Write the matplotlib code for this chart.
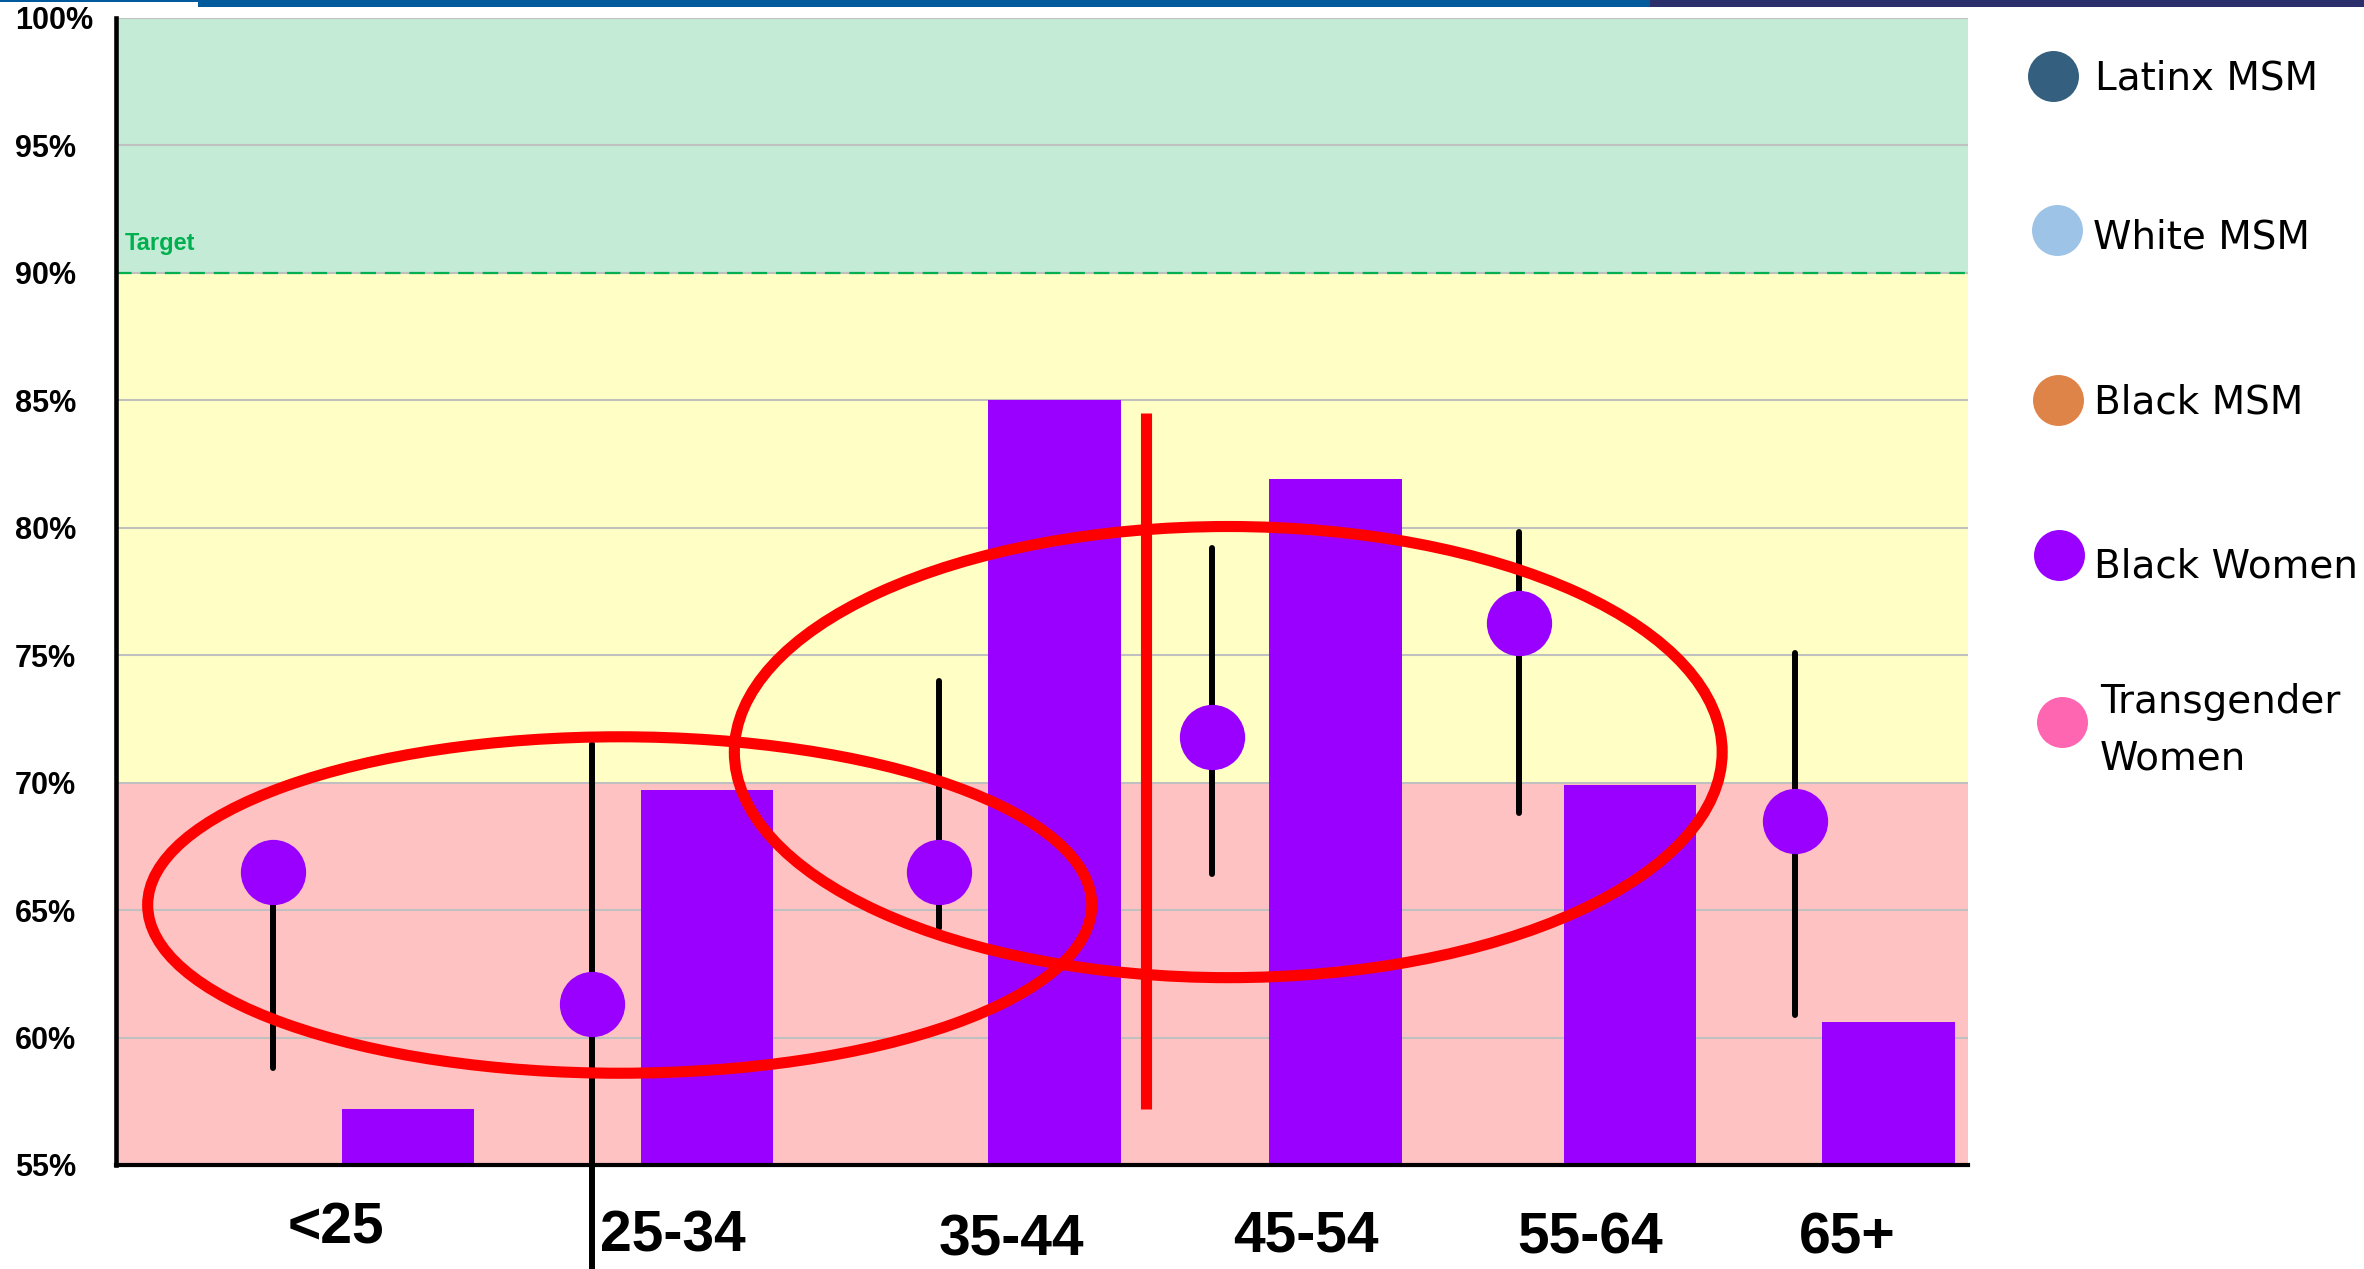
import matplotlib
matplotlib.use("Agg")
import matplotlib.pyplot as plt
import matplotlib.transforms as mtransforms
from matplotlib.patches import Ellipse, Rectangle
from matplotlib.lines import Line2D

# ---------------- data ----------------
categories = ["<25", "25-34", "35-44", "45-54", "55-64", "65+"]
bar_values = [57.2, 69.7, 85.0, 81.9, 69.9, 60.6]
dot_values = [66.5, 61.3, 66.5, 71.8, 76.25, 68.5]
dot_upper = [66.5, 71.5, 74.0, 79.2, 79.85, 75.1]
dot_lower = [58.8, 50.9, 64.3, 66.4, 68.8, 60.9]
y_ticks = [55, 60, 65, 70, 75, 80, 85, 90, 95, 100]
y_tick_labels = [f"{v}%" for v in y_ticks]
target_value = 90
legend_labels = ["Latinx MSM", "White MSM", "Black MSM", "Black Women", "Transgender\nWomen"]
legend_colors = ["#355F7E", "#9DC3E6", "#DF8449", "#9900FF", "#FF66B2"]

# ---------------- layout (positions on the slide) ----------------
bar_x = [0.968, 1.959, 3.1125, 4.044, 5.019, 5.8775]
dot_x = [0.52, 1.577, 2.7275, 3.633, 4.652, 5.565]
label_x = [0.73, 1.846, 2.97, 3.946, 4.887, 5.738]
label_baseline_px = [1243, 1252, 1256, 1252, 1254, 1254]
# annotation shapes (data units)
ellipse_specs = [((1.67, 65.2), 3.13, 13.2), ((3.6875, 71.2), 3.275, 17.7)]
red_line = (3.415, 57.2, 84.5)

W, H = 2364, 1269
fig = plt.figure(figsize=(W / 100, H / 100), dpi=100)
fig.patch.set_facecolor("white")
ax = fig.add_axes([116 / W, 1 - 1165 / H, (1968 - 116) / W, (1165 - 18) / H])
ax.set_xlim(0, 6.14)
ax.set_ylim(55, 100)

# background bands
ax.axhspan(55, 70, color="#FFC2C2", zorder=0, lw=0)
ax.axhspan(70, 90, color="#FFFFC5", zorder=0, lw=0)
ax.axhspan(90, 100, color="#C3EBD6", zorder=0, lw=0)
for v in y_ticks[1:]:
    ax.axhline(v, color="#C0C0C0", lw=1.5, zorder=1)

# target line
ax.axhline(target_value, color="#00B050", lw=1.6, ls=(0, (7, 4)), zorder=2)
ax.text(0.03, target_value + 0.9, "Target", color="#00B050", fontsize=17,
        fontweight="bold", family="Liberation Sans", va="baseline", ha="left")

# bars
ax.bar(bar_x, bar_values, width=0.44, color="#9900FF", zorder=3, lw=0)

# error lines + dots
vl = ax.vlines(dot_x, dot_lower, dot_upper, color="black", lw=4.3, zorder=4)
vl.set_capstyle("round")
vl.set_clip_on(False)
ax.plot(dot_x, dot_values, "o", ms=47, color="#9900FF", mec="none", zorder=6,
        clip_on=False)

# red annotations
for (c, w, h) in ellipse_specs:
    ax.add_patch(Ellipse(c, w, h, fill=False, ec="#FF0000", lw=8, zorder=5))
rl = ax.vlines(red_line[0], red_line[1], red_line[2], color="#FF0000", lw=8, zorder=5)

# spines / ticks
for s in ["top", "right"]:
    ax.spines[s].set_visible(False)
ax.spines["left"].set_linewidth(3.3)
ax.spines["bottom"].set_linewidth(3.0)
ax.spines["left"].set_zorder(10)
ax.spines["bottom"].set_zorder(10)
ax.set_xticks([])
ax.set_yticks(y_ticks)
ax.set_yticklabels(y_tick_labels, fontsize=22, fontweight="bold",
                   family="Liberation Sans")
ax.tick_params(axis="y", length=0, pad=72.7)
for t in ax.get_yticklabels():
    t.set_horizontalalignment("left")

# category labels
trans = mtransforms.blended_transform_factory(ax.transData, fig.transFigure)
for x, lab, by in zip(label_x, categories, label_baseline_px):
    ax.text(x, 1 - by / H, lab, transform=trans, ha="center", va="baseline",
            fontsize=41, fontweight="bold", family="Liberation Sans")

# legend (manual, slide-like)
marker_pos = [(2053, 76), (2057, 230), (2058, 400), (2059, 555), (2062, 722)]
text_pos = [(2095, [89]), (2093, [249]), (2094, [414]), (2094, [578]),
            (2100, [713, 770])]
for (mx, my), (tx, bys), lab, col in zip(marker_pos, text_pos, legend_labels, legend_colors):
    fig.add_artist(Line2D([mx / W], [1 - my / H], marker="o", ms=36.7, color=col,
                          mec="none", ls="none", transform=fig.transFigure))
    for line, by in zip(lab.split("\n"), bys):
        fig.text(tx / W, 1 - by / H, line, fontsize=28, family="DejaVu Sans",
                 va="baseline", ha="left")

# slide header strip
fig.add_artist(Rectangle((0, 1 - 1.5 / H), 198 / W, 1.5 / H, color="#005A9C",
                         transform=fig.transFigure, lw=0))
fig.add_artist(Rectangle((198 / W, 1 - 7 / H), (1650 - 198) / W, 7 / H, color="#005A9C",
                         transform=fig.transFigure, lw=0))
fig.add_artist(Rectangle((1650 / W, 1 - 7 / H), (W - 1650) / W, 7 / H, color="#2B2F6B",
                         transform=fig.transFigure, lw=0))

fig.savefig("out.png", dpi=100)
